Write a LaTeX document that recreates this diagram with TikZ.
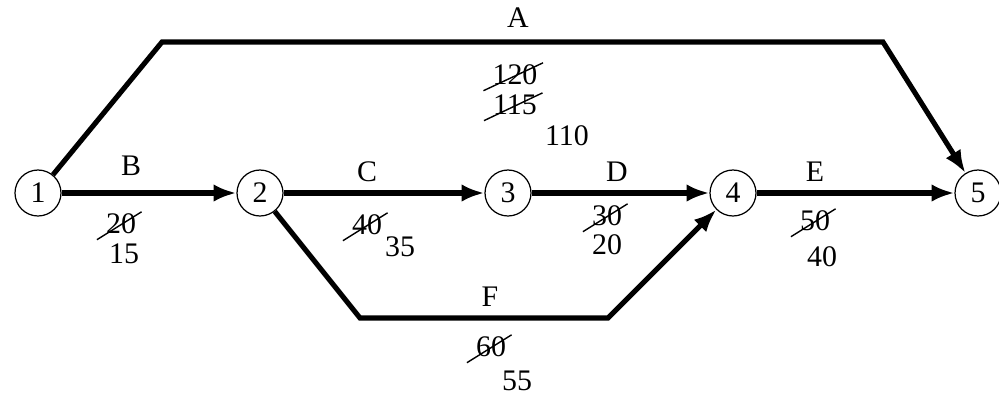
\documentclass[tikz,border=0pt]{standalone}
\usepackage{fontspec}
\setmainfont{Liberation Serif}
\usetikzlibrary{arrows.meta,calc}
\begin{document}
\begin{tikzpicture}[x=0.02cm,y=-0.02cm,
  every node/.style={font=\fontsize{17}{20}\selectfont},
  event/.style={circle,draw,line width=0.7pt,minimum size=0.92cm,inner sep=0pt},
  act/.style={line width=2.9pt,-{Latex[length=13pt,width=10pt]}},
  lbl/.style={inner sep=0pt},
  strikeline/.style={line width=0.8pt}]
\useasboundingbox (0,0) rectangle (999,396);
\node[event] (n1) at (38,193) {1};
\node[event] (n2) at (260,193) {2};
\node[event] (n3) at (508,193) {3};
\node[event] (n4) at (733,193) {4};
\node[event] (n5) at (978,193) {5};
\coordinate (a1) at (162,42);
\coordinate (a2) at (883,42);
\coordinate (f1) at (360,318);
\coordinate (f2) at (608,318);
\draw[act] (n1) -- (a1) -- (a2) -- (n5);
\draw[act] (n1) -- (n2);
\draw[act] (n2) -- (n3);
\draw[act] (n3) -- (n4);
\draw[act] (n4) -- (n5);
\draw[act] (n2) -- (f1) -- (f2) -- (n4);
% labels
\node[lbl] (la) at (518,18) {A};
\node[lbl] (lb) at (131,166) {B};
\node[lbl] (lc) at (367,172) {C};
\node[lbl] (ld) at (617,172) {D};
\node[lbl] (le) at (815,172) {E};
\node[lbl] (lf) at (490,297) {F};
% durations
\node[lbl] (a120) at (515,75) {120};
\node[lbl] (a115) at (515,105) {115};
\node[lbl] (a110) at (567,136) {110};
\node[lbl] (b20) at (121,224) {20};
\node[lbl] (b15) at (124,254) {15};
\node[lbl] (c40) at (367,225) {40};
\node[lbl] (c35) at (400,247) {35};
\node[lbl] (d30) at (607,216) {30};
\node[lbl] (d20) at (607,245) {20};
\node[lbl] (e50) at (815,221) {50};
\node[lbl] (e40) at (822,257) {40};
\node[lbl] (f60) at (491,347) {60};
\node[lbl] (f55) at (517,381) {55};
\foreach \n in {a120,a115,b20,c40,d30,e50,f60}{
  \draw[strikeline] ([shift={(-5pt,-3pt)}]\n.south west) -- ([shift={(3pt,1pt)}]\n.north east);
}
\end{tikzpicture}
\end{document}
